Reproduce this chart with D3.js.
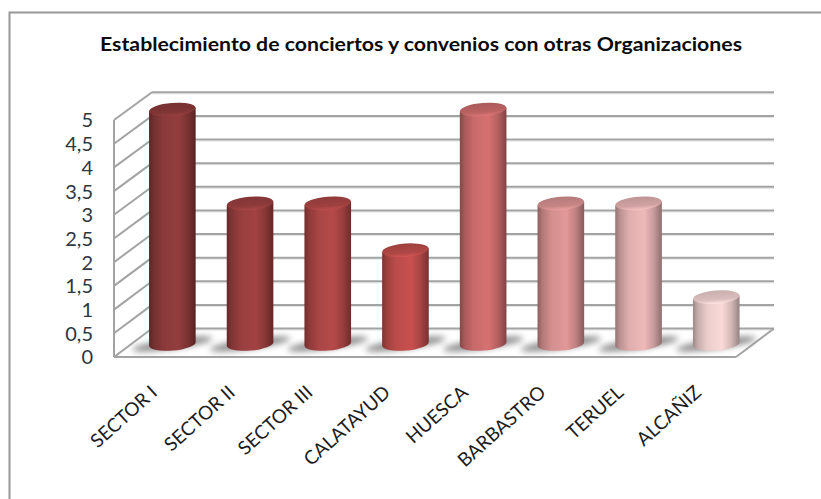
<!DOCTYPE html>
<html lang="es">
<head>
<meta charset="utf-8">
<style>html,body{margin:0;padding:0;background:#fff;overflow:hidden}svg{display:block}</style>
<script src="https://cdn.jsdelivr.net/npm/d3@7/dist/d3.min.js"></script>
</head>
<body>
<svg id="c" width="821" height="499"></svg>
<script>
const chartTitle = "Establecimiento de conciertos y convenios con otras Organizaciones";
const categories = ["SECTOR I","SECTOR II","SECTOR III","CALATAYUD","HUESCA","BARBASTRO","TERUEL","ALCAÑIZ"];
const values = [5,3,3,2,5,3,3,1];
const barColors = ["#8f3b3b","#9e4040","#b04747","#c24f4d","#d06e6e","#dc9494","#e8b4b4","#f3d4d2"];
const tickValues = [0,0.5,1,1.5,2,2.5,3,3.5,4,4.5,5];

const svg = d3.select("#c");
const defs = svg.append("defs");
const lineColor = "#a3a3a3";
const depth = 38;

const yFront = d3.scaleLinear().domain([0,5]).range([357,120]);
const yBack  = d3.scaleLinear().domain([0,5]).range([328.5,92.3]);
const yBar   = d3.scaleLinear().domain([0,5]).range([344,109.5]);
const x = d3.scaleBand().domain(categories).range([133.5,755.1]).paddingInner(0.4).paddingOuter(0.2);
const frontLeft = 114, frontRight = 736;
const rx = x.bandwidth()/2, ry = 6.6, tilt = -4.5;

defs.append("filter").attr("id","blurShadow").attr("x","-40%").attr("y","-150%").attr("width","180%").attr("height","400%")
  .append("feGaussianBlur").attr("stdDeviation",3);
defs.append("filter").attr("id","soft").attr("x","-10%").attr("y","-10%").attr("width","120%").attr("height","120%")
  .append("feGaussianBlur").attr("stdDeviation",0.6);

// frame
svg.append("rect").attr("x",9.5).attr("y",12.5).attr("width",900).attr("height",600)
  .attr("fill","#fff").attr("stroke","#979797").attr("stroke-width",2);

// title
svg.append("text").attr("x",421).attr("y",51).attr("text-anchor","middle")
  .attr("font-family","Lato,sans-serif").attr("font-weight",700).attr("font-size",18)
  .attr("fill","#0c0c0c").attr("textLength",642).attr("lengthAdjust","spacingAndGlyphs").text(chartTitle);

// walls
const wall = svg.append("g").attr("fill","none").attr("stroke",lineColor).attr("stroke-width",2);
wall.selectAll("line.sh").data(tickValues).join("line").attr("class","sh")
  .attr("x1",frontLeft+depth).attr("x2",frontRight+depth)
  .attr("y1",d=>yBack(d)+1.6).attr("y2",d=>yBack(d)+1.6).attr("stroke","#e4e4e4").attr("stroke-width",1);
wall.selectAll("line.back").data(tickValues).join("line").attr("class","back")
  .attr("x1",frontLeft+depth).attr("x2",frontRight+depth)
  .attr("y1",d=>yBack(d)).attr("y2",d=>yBack(d));
wall.selectAll("line.side").data(tickValues).join("line").attr("class","side")
  .attr("x1",frontLeft).attr("x2",frontLeft+depth)
  .attr("y1",d=>yFront(d)).attr("y2",d=>yBack(d));
wall.append("line").attr("x1",frontLeft).attr("x2",frontLeft).attr("y1",yFront(5)).attr("y2",yFront(0));
wall.append("line").attr("x1",frontLeft).attr("x2",frontRight).attr("y1",yFront(0)).attr("y2",yFront(0));
wall.append("line").attr("x1",frontRight).attr("x2",frontRight+depth).attr("y1",yFront(0)).attr("y2",yBack(0));

// value axis
const axisY = d3.axisLeft(yFront).tickValues(tickValues).tickSize(0).tickPadding(0)
  .tickFormat(d=>String(d).replace(".",","));
const gy = svg.append("g").attr("transform","translate(93,0.5)").call(axisY);
gy.select(".domain").remove();
gy.selectAll("text").attr("font-family","Lato,sans-serif").attr("font-size",20).attr("fill","#2f3640");

// gradients
categories.forEach((c,i)=>{
  const col = d3.color(barColors[i]);
  const g = defs.append("linearGradient").attr("id","g"+i);
  [[0,col.darker(1.25)],[0.1,col.darker(0.6)],[0.3,col.darker(0.1)],[0.62,col.brighter(0.08)],[0.82,col.darker(0.4)],[1,col.darker(1.35)]]
    .forEach(([o,k])=>g.append("stop").attr("offset",o).attr("stop-color",k));
  const t = defs.append("linearGradient").attr("id","t"+i).attr("x1",0).attr("x2",0).attr("y1",0).attr("y2",1);
  [[0,col.darker(0.55)],[0.7,col.darker(0.3)],[1,col.brighter(0.2)]]
    .forEach(([o,k])=>t.append("stop").attr("offset",o).attr("stop-color",k));
});

// shadows
svg.append("g").selectAll("ellipse").data(categories).join("ellipse")
  .attr("cx",d=>x(d)+rx).attr("cy",yBar(0)).attr("rx",rx+17).attr("ry",5)
  .attr("transform",d=>`rotate(-8 ${x(d)+rx} ${yBar(0)})`)
  .attr("fill","#8a8a8a").attr("filter","url(#blurShadow)");

// bars
const dy = rx*Math.sin(-tilt*Math.PI/180);
const bars = svg.append("g").attr("filter","url(#soft)").selectAll("g").data(categories).join("g");
bars.append("path").attr("fill",(d,i)=>`url(#g${i})`).attr("d",(d,i)=>{
  const cx = x(d)+rx, t = yBar(values[i]), b = yBar(0);
  return `M${cx-rx},${t+dy}L${cx-rx},${b+dy}A${rx},${ry} ${tilt} 0 0 ${cx+rx},${b-dy}L${cx+rx},${t-dy}Z`;
});
bars.append("ellipse").attr("fill",(d,i)=>`url(#t${i})`)
  .attr("cx",d=>x(d)+rx).attr("cy",(d,i)=>yBar(values[i])).attr("rx",rx).attr("ry",ry)
  .attr("transform",(d,i)=>`rotate(${tilt} ${x(d)+rx} ${yBar(values[i])})`);

// category labels
svg.append("g").selectAll("text").data(categories).join("text")
  .attr("text-anchor","end").attr("font-family","Lato,sans-serif").attr("font-size",19).attr("fill","#1c1c1c")
  .attr("transform",d=>`translate(${x(d)+rx-23},${384}) rotate(-42)`)
  .attr("dy","0.72em").text(d=>d);
</script>
</body>
</html>
